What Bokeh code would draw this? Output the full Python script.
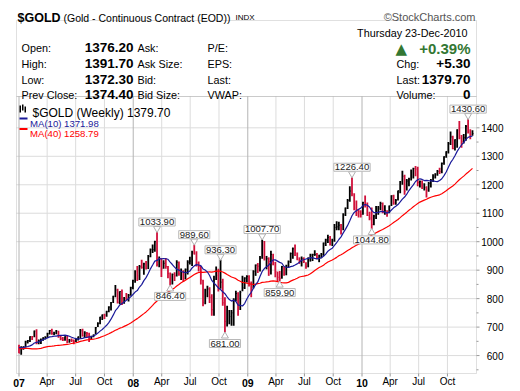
import pandas as pd
from bokeh.plotting import figure
from bokeh.models import Range1d, Label, LabelSet, ColumnDataSource, BoxAnnotation
from bokeh.core.properties import value
from bokeh.embed import file_html
from bokeh.resources import INLINE

# ---------------- data (weekly bars) ----------------
first_week = "2007-01-01"
warmup_close_2006 = [585, 597, 620, 638, 655, 690, 710, 655, 652, 635, 610, 570, 585, 613,
                     630, 655, 645, 630, 645, 640, 620, 622, 625, 590, 585, 600, 600,
                     575, 585, 600, 598, 625, 625, 625, 640, 645, 628, 620, 625, 635]

high_2007 = [638, 633, 633, 652, 655, 668, 669, 688, 692, 656, 660, 664, 668, 680, 690, 694, 684,
             690, 687, 672, 665, 668, 671, 658, 660, 656, 660, 667, 693, 694, 685, 683, 680, 670, 674,
             700, 717, 736, 744, 747, 757, 773, 788, 810, 848, 835, 826, 832, 806, 820, 816, 842]
low_2007 = [608, 603, 620, 628, 642, 648, 655, 664, 640, 640, 641, 652, 656, 662, 674, 673, 672,
            675, 663, 654, 651, 652, 643, 645, 648, 640, 648, 653, 662, 667, 662, 665, 648, 658, 664,
            675, 700, 710, 725, 728, 736, 752, 758, 785, 805, 783, 780, 778, 782, 795, 790, 810]
close_2007 = [609, 626, 630, 648, 652, 666, 664, 686, 645, 652, 654, 662, 663, 677, 688, 677, 678,
              686, 666, 659, 655, 666, 649, 654, 653, 650, 657, 666, 687, 669, 679, 677, 663, 666, 673,
              698, 712, 735, 743, 742, 754, 770, 785, 808, 830, 787, 825, 783, 800, 799, 812, 838]

high_2008 = [866, 900, 915, 918, 937, 926, 932, 953, 976, 990, 1003, 1033.9, 948, 942, 935, 943, 915,
             892, 888, 893, 935, 930, 906, 900, 906, 935, 947, 968, 989.6, 966, 930, 915, 866, 835, 845,
             840, 815, 880, 913, 905, 936.3, 870, 805, 775, 760, 760, 801, 828, 822, 828, 880, 875]
low_2008 = [833, 856, 862, 865, 905, 884, 902, 904, 945, 960, 965, 913, 910, 876, 905, 905, 872,
            846.4, 850, 862, 878, 880, 865, 858, 867, 885, 920, 915, 955, 913, 895, 850, 773, 780, 805,
            785, 740, 740, 865, 825, 835, 775, 681, 702, 710, 705, 705, 790, 740, 760, 826, 834]
close_2008 = [863, 895, 880, 912, 910, 922, 906, 948, 972, 972, 1000, 920, 940, 905, 924, 913, 888,
              851, 885, 880, 928, 887, 902, 871, 903, 928, 932, 962, 957, 925, 913, 866, 787, 830, 834,
              805, 761, 866, 882, 832, 858, 785, 720, 722, 737, 750, 795, 818, 754, 822, 838, 872]

high_2009 = [882, 882, 860, 900, 920, 925, 950, 1007.7, 1002, 950, 945, 968, 958, 929, 895, 897, 915,
             913, 919, 934, 962, 980, 990, 962, 945, 948, 945, 928, 945, 958, 958, 970, 960, 954, 960,
             997, 1010, 1024, 1020, 1010, 1062, 1072, 1070, 1062, 1100, 1120, 1150, 1195,
             1226.4, 1170, 1145, 1115]
low_2009 = [857, 843, 805, 836, 880, 890, 895, 940, 934, 903, 880, 885, 917, 875, 862, 859.9, 870,
            880, 882, 909, 925, 940, 950, 935, 922, 913, 925, 905, 910, 930, 932, 950, 938, 928, 942,
            950, 985, 995, 987, 985, 1000, 1040, 1040, 1025, 1040, 1090, 1115, 1140,
            1160, 1110, 1090, 1085]
close_2009 = [878, 855, 840, 895, 918, 914, 942, 1002, 940, 940, 930, 955, 925, 895, 875, 870, 912,
              887, 915, 930, 958, 975, 962, 937, 933, 940, 930, 912, 937, 953, 955, 955, 945, 952, 955,
              995, 1006, 1015, 991, 1003, 1050, 1052, 1058, 1045, 1095, 1118, 1145, 1178,
              1168, 1118, 1110, 1105]

high_2010 = [1110, 1140, 1162, 1138, 1105, 1120, 1095, 1125, 1125, 1140, 1138, 1128, 1110,
             1127, 1163, 1165, 1150, 1180, 1213, 1249, 1235, 1220, 1225, 1254, 1260, 1266,
             1263, 1215, 1215, 1205, 1195, 1210, 1220, 1237, 1240, 1252, 1260, 1278, 1300,
             1318, 1350, 1387, 1372, 1360, 1395, 1424, 1375, 1378, 1410, 1430.6, 1395, 1391.7]
low_2010 = [1085, 1095, 1120, 1090, 1075, 1044.8, 1058, 1080, 1095, 1110, 1100, 1095, 1088,
            1100, 1125, 1130, 1130, 1145, 1170, 1200, 1165, 1180, 1195, 1215, 1222, 1230,
            1195, 1190, 1185, 1180, 1155, 1175, 1190, 1210, 1222, 1232, 1238, 1240, 1270,
            1295, 1310, 1340, 1325, 1320, 1330, 1360, 1330, 1345, 1355, 1380, 1360, 1372.3]
close_2010 = [1096, 1137, 1130, 1092, 1083, 1060, 1090, 1117, 1118, 1134, 1103, 1110, 1095,
              1125, 1161, 1136, 1145, 1179, 1210, 1230, 1177, 1213, 1220, 1228, 1257, 1255,
              1208, 1211, 1188, 1190, 1181, 1205, 1215, 1227, 1237, 1247, 1246, 1275, 1298,
              1317, 1345, 1368, 1327, 1358, 1392, 1365, 1352, 1365, 1405, 1386, 1376, 1379.7]

year_ticks = ["2007-01-01", "2008-01-01", "2009-01-01", "2010-01-01"]
year_labels = ["07", "08", "09", "10"]
month_ticks = ["2007-04-01", "2007-07-01", "2007-10-01", "2008-04-01", "2008-07-01", "2008-10-01",
               "2009-04-01", "2009-07-01", "2009-10-01", "2010-04-01", "2010-07-01", "2010-10-01"]
month_labels = ["Apr", "Jul", "Oct"] * 4
price_ticks = [600, 700, 800, 900, 1000, 1100, 1200, 1300, 1400]
price_minor = [550, 650, 750, 850, 950, 1050, 1150, 1250, 1350, 1450]

annot_dates = ["2008-03-17", "2008-04-28", "2008-07-14", "2008-10-06", "2008-10-20",
               "2009-02-16", "2009-04-13", "2009-11-30", "2010-02-01", "2010-12-06"]
annot_values = [1033.9, 846.4, 989.6, 936.3, 681.0, 1007.7, 859.9, 1226.4, 1044.8, 1430.6]
annot_texts = ["1033.90", "846.40", "989.60", "936.30", "681.00",
               "1007.70", "859.90", "1226.40", "1044.80", "1430.60"]
annot_above = [True, False, True, True, False, True, False, True, False, True]

info_labels_1 = ["Open:", "High:", "Low:", "Prev Close:"]
info_values_1 = ["1376.20", "1391.70", "1372.30", "1374.40"]
info_labels_2 = ["Ask:", "Ask Size:", "Bid:", "Bid Size:"]
info_labels_3 = ["P/E:", "EPS:", "Last:", "VWAP:"]
info_labels_4 = ["Chg:", "Last:", "Volume:"]
info_values_4 = ["+5.30", "1379.70", "0"]

# ---------------- derived series ----------------
high = high_2007 + high_2008 + high_2009 + high_2010
low = low_2007 + low_2008 + low_2009 + low_2010
close = close_2007 + close_2008 + close_2009 + close_2010
dates = pd.date_range(first_week, periods=len(close), freq="7D")
all_close = pd.Series(warmup_close_2006 + close)
nw = len(warmup_close_2006)
ma10 = all_close.rolling(10).mean().values[nw:]
ma40 = all_close.rolling(40).mean().values[nw:]
prev = [warmup_close_2006[-1]] + close[:-1]
RED = "#d0103a"
NAVY = "#1a1a9a"
colors = ["#000000" if c >= pc else RED for c, pc in zip(close, prev)]
src = ColumnDataSource(dict(x=dates, xr=dates + pd.Timedelta(days=3), h=high, l=low, c=close,
                            color=colors, ma10=ma10, ma40=ma40))

def ms(d):
    return pd.Timestamp(d).value / 1e6

# ---------------- geometry ----------------
W, H = 520, 391
FL, FR, FT, FB = 16, 476, 96, 373          # chart area inside the canvas
Y0, Y1 = 537, 1510                         # price at bottom / top of chart area
PXU = (FB - FT) / (Y1 - Y0)                # px per price unit
DAY_PX = 0.31296                           # px per day
X0 = pd.Timestamp("2007-01-01") - pd.Timedelta(days=8)      # date at left of chart area
X1 = X0 + pd.Timedelta(days=(FR - FL) / DAY_PX)
MS_PX = 86400000 / DAY_PX                  # ms per px

p = figure(width=W, height=H, x_axis_type="datetime", title=None,
           x_range=Range1d(ms(X0) - FL * MS_PX, ms(X0) + (W - FL) * MS_PX),
           y_range=Range1d(Y0 - (H - FB) / PXU, Y1 + FT / PXU),
           output_backend="svg", toolbar_location=None,
           min_border_left=0, min_border_right=0, min_border_top=0, min_border_bottom=0)
p.xaxis.visible = False
p.yaxis.visible = False
p.grid.visible = False
p.outline_line_color = None
p.background_fill_color = "white"
p.border_fill_color = "white"

def sx(px):
    return px
def sy(py):
    return H - py

# grid lines
xm, x1m = ms(X0), ms(X1)
p.segment(x0=[xm] * len(price_ticks), x1=[x1m] * len(price_ticks), y0=price_ticks, y1=price_ticks,
          color="#dcdcdc", line_width=1)
p.segment(x0=[ms(d) for d in month_ticks], x1=[ms(d) for d in month_ticks],
          y0=[Y0] * len(month_ticks), y1=[Y1] * len(month_ticks), color="#dcdcdc", line_width=1)
p.segment(x0=[ms(d) for d in year_ticks], x1=[ms(d) for d in year_ticks],
          y0=[Y0] * len(year_ticks), y1=[Y1] * len(year_ticks), color="#b4b4b4", line_width=1)

# axis ticks
p.segment(x0=[x1m] * len(price_ticks), x1=[x1m + 3 * MS_PX] * len(price_ticks),
          y0=price_ticks, y1=price_ticks, color="#999999")
p.segment(x0=[x1m] * len(price_minor), x1=[x1m + 2 * MS_PX] * len(price_minor),
          y0=price_minor, y1=price_minor, color="#999999")
xt = [ms(d) for d in year_ticks + month_ticks]
p.segment(x0=xt, x1=xt, y0=[Y0] * len(xt), y1=[Y0 - 3 / PXU] * len(xt), color="#999999")

# bars and moving averages
p.segment(x0="x", y0="l", x1="x", y1="h", color="color", line_width=1.8, source=src)
p.segment(x0="x", y0="c", x1="xr", y1="c", color="color", line_width=1, source=src)
p.line("x", "ma40", source=src, color="#ff0000", line_width=1.2)
p.line("x", "ma10", source=src, color=NAVY, line_width=1.2)

# ---------------- text helpers ----------------
F = "Liberation Sans"

def txt(px, py, s, size, color="#000000", bold=False, align="left", font=F, baseline="alphabetic"):
    p.add_layout(Label(x=sx(px), y=sy(py), x_units="screen", y_units="screen", text=s,
                       text_font=font, text_font_size=f"{size}px", text_color=color,
                       text_font_style="bold" if bold else "normal",
                       text_align=align, text_baseline=baseline))

def box(l, t, r, b, fill=None, line="#999999"):
    p.add_layout(BoxAnnotation(left=sx(l), right=sx(r), top=sy(t), bottom=sy(b),
                               left_units="screen", right_units="screen",
                               top_units="screen", bottom_units="screen",
                               fill_color=fill, fill_alpha=1, line_color=line, line_width=1))

# frames
box(FL, 20, FR, FT)
box(FL, FT, FR, FB)

# header
txt(17, 17, "$GOLD", 12.5, bold=True)
txt(63, 17, "(Gold - Continuous Contract (EOD))", 10.5)
txt(235, 17, "INDX", 8)
txt(475, 16, "\u00a9StockCharts.com", 11, color="#555555", align="right")
rows = [47, 63, 79, 94]
for i, yb in enumerate(rows):
    txt(21, yb, info_labels_1[i], 10.8)
    txt(133, yb, info_values_1[i], 13.5, bold=True, align="right")
    txt(137, yb, info_labels_2[i], 10.8)
    txt(207, yb, info_labels_3[i], 10.8)
txt(470, 32, "Thursday  23-Dec-2010", 10.8, align="right")
txt(395, 48, "\u25b2", 15, color="#337733", font="DejaVu Sans")
txt(470, 48, "+0.39%", 15, color="#337733", bold=True, align="right")
for i, yb in enumerate(rows[1:]):
    txt(396, yb, info_labels_4[i], 10.8)
    txt(470, yb, info_values_4[i], 13.5, bold=True, align="right")

# legend inside chart
for bx, bt, bb in [(19, 105, 112), (21.5, 104, 110), (24, 106, 112)]:
    box(bx, bt, bx + 1.5, bb, fill="#000000", line=None)
txt(32, 112, "$GOLD (Weekly) 1379.70", 12)
box(19, 117, 27, 119, fill=NAVY, line=None)
txt(29.5, 122.5, "MA(10) 1371.98", 9.6, color=NAVY)
box(19, 127.5, 27, 129.5, fill="#ff0000", line=None)
txt(29.5, 132.5, "MA(40) 1258.79", 9.6, color="#ff0000")

# axis labels
ysrc = ColumnDataSource(dict(y=price_ticks, t=[str(v) for v in price_ticks],
                             x=[sx(503)] * len(price_ticks)))
p.add_layout(LabelSet(x="x", y="y", text="t", source=ysrc, x_units="screen", y_units="data",
                      text_align="right", text_baseline="middle", text_font=value(F),
                      text_font_size="10px", text_color="#000000"))
xsrc1 = ColumnDataSource(dict(x=[ms(d) for d in year_ticks], t=year_labels,
                              y=[sy(386.5)] * len(year_ticks)))
p.add_layout(LabelSet(x="x", y="y", text="t", source=xsrc1, x_units="data", y_units="screen",
                      text_align="center", text_font=value(F), text_font_size="10.5px",
                      text_font_style="bold", text_color="#000000"))
xsrc2 = ColumnDataSource(dict(x=[ms(d) for d in month_ticks], t=month_labels,
                              y=[sy(386.5)] * len(month_ticks)))
p.add_layout(LabelSet(x="x", y="y", text="t", source=xsrc2, x_units="data", y_units="screen",
                      text_align="center", text_font=value(F), text_font_size="10px",
                      text_color="#000000"))

# peak / trough value labels
for d, v, t, up in zip(annot_dates, annot_values, annot_texts, annot_above):
    off = 6 if up else -7
    p.scatter([pd.Timestamp(d)], [v + (3.5 if up else -3.5) / PXU],
              marker="inverted_triangle" if up else "triangle", size=7,
              fill_color="white", line_color="#b0b0b0")
    p.add_layout(Label(x=ms(d), y=v, x_units="data", y_units="data", y_offset=off,
                       text=t, text_font=F, text_font_size="9.5px", text_color="#222222",
                       text_align="center", text_baseline="bottom" if up else "top",
                       background_fill_color="white", border_line_color="#b8b8b8", padding=1))

open("out.html", "w").write(file_html(p, INLINE))
